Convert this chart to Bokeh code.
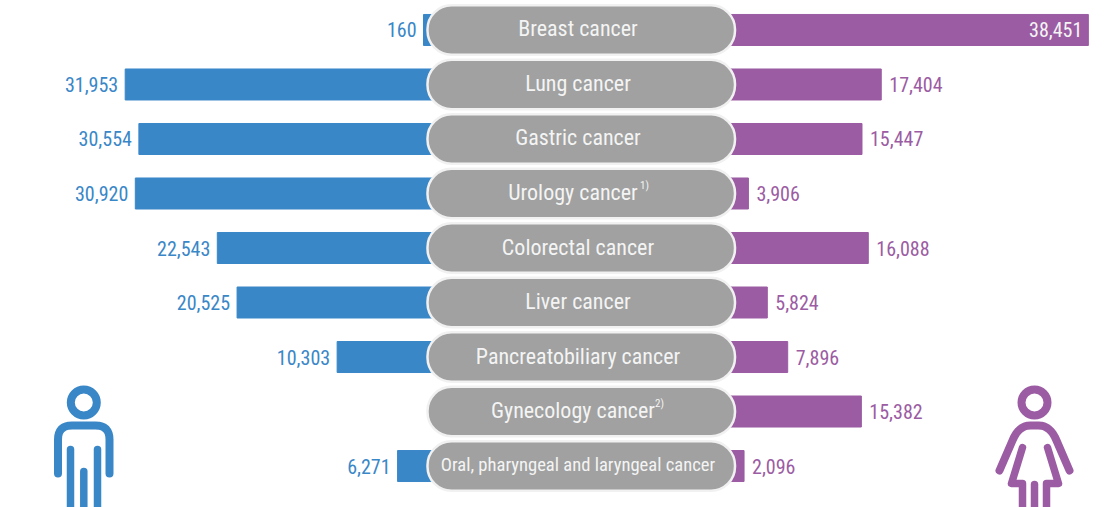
from bokeh.plotting import figure
from bokeh.models import Range1d, ColumnDataSource
from bokeh.core.properties import value
from bokeh.embed import file_html
from bokeh.resources import INLINE

categories = ["Breast cancer", "Lung cancer", "Gastric cancer", "Urology cancer", "Colorectal cancer",
              "Liver cancer", "Pancreatobiliary cancer", "Gynecology cancer", "Oral, pharyngeal and laryngeal cancer"]
footnotes = ["", "", "", "1)", "", "", "", "2)", ""]
male_labels = ["160", "31,953", "30,554", "30,920", "22,543", "20,525", "10,303", "", "6,271"]
female_labels = ["38,451", "17,404", "15,447", "3,906", "16,088", "5,824", "7,896", "15,382", "2,096"]
# bar lengths as drawn in the picture (the smallest bars are drawn longer than their labels)
male_bars = [1480, 31953, 30554, 30920, 22543, 20525, 10303, 0, 4130]
female_bars = [38451, 17404, 15447, 3906, 16088, 5824, 7896, 15382, 3460]

BLUE, PURPLE, GREY, EDGE, LIGHT = "#3a87c8", "#9b5ca3", "#a0a1a0", "#f1f1f1", "#f4f4f4"
FONT = "Roboto Condensed"

W, H = 1108, 507
rows = list(range(len(categories)))
p = figure(width=W, height=H, output_backend="svg", toolbar_location=None, min_border=0,
           x_range=Range1d(0, W), y_range=Range1d(8.761, -0.541),
           x_axis_type=None, y_axis_type=None, outline_line_color=None)
p.grid.visible = False
p.extra_x_ranges = {"male": Range1d(44689, -68488), "female": Range1d(-72104, 40498)}
p.extra_y_ranges = {"px": Range1d(H, 0)}

src = ColumnDataSource(dict(y=rows, cat=categories, ml=male_labels, fl=female_labels,
                            mb=male_bars, fb=female_bars,
                            zero=[0] * len(rows)))
p.hbar(y="y", left="zero", right="mb", height=0.569, color=BLUE, source=src, x_range_name="male")
p.hbar(y="y", left="zero", right="fb", height=0.569, color=PURPLE, source=src, x_range_name="female")

# pills
pill_left = [427] * len(rows)
pill_right = [734.5] * len(rows)
p.hbar(y=rows, left=pill_left, right=pill_right, height=0.905, fill_color=GREY, line_color=EDGE,
       line_width=2.5, border_radius=24)

# pill labels
offs = [-5 if f else 0 for f in footnotes]
sizes = ["22px"] * 8 + ["18.6px"]
p.text(x=[577.5] * len(rows), y=rows, text=categories, x_offset=offs, y_offset=-1, text_align="center",
       text_baseline="middle", text_color=LIGHT, text_font=value(FONT), text_font_size=sizes)
fn_rows = [i for i, f in enumerate(footnotes) if f]
p.text(x=[639.5, 654.5], y=fn_rows, text=[footnotes[i] for i in fn_rows], y_offset=-8,
       text_align="left", text_baseline="middle", text_color=LIGHT, text_font=value(FONT),
       text_font_size="11px")

# value labels
p.text(x="mb", y="y", text="ml", source=src, x_range_name="male", x_offset=-7, y_offset=0,
       text_align="right", text_baseline="middle", text_color=BLUE, text_font=value(FONT),
       text_font_size="20px")
out_rows = [i for i in rows if i != 0]
p.text(x=[female_bars[i] for i in out_rows], y=out_rows, text=[female_labels[i] for i in out_rows],
       x_range_name="female", x_offset=8, y_offset=0, text_align="left", text_baseline="middle",
       text_color=PURPLE, text_font=value(FONT), text_font_size="20px")
p.text(x=[female_bars[0]], y=[0], text=[female_labels[0]], x_range_name="female", x_offset=-6, y_offset=0,
       text_align="right", text_baseline="middle", text_color=LIGHT, text_font=value(FONT),
       text_font_size="20px")


def curve(a, c, b, n=8):
    pts = []
    for k in range(n + 1):
        t = k / n
        pts.append(((1 - t) ** 2 * a[0] + 2 * t * (1 - t) * c[0] + t ** 2 * b[0],
                    (1 - t) ** 2 * a[1] + 2 * t * (1 - t) * c[1] + t ** 2 * b[1]))
    return pts


def stroke(paths, color, width):
    p.multi_line([[q[0] for q in path] for path in paths], [[q[1] for q in path] for path in paths],
                 line_color=color, line_width=width, line_cap="round", line_join="round", y_range_name="px")


# male icon
p.circle(x=[83.3], y=[402], radius=13, radius_units="screen", fill_color=None, line_color=BLUE, line_width=8,
         y_range_name="px")
stroke([[(57.5, 473)] + curve((57.5, 439), (57.5, 425), (71.5, 425)) + curve((95, 425), (109, 425), (109, 439)) + [(109, 473)]],
       BLUE, 8)
stroke([[(70, 449), (70, 512)], [(83.3, 471), (83.3, 512)], [(97, 449), (97, 512)]], BLUE, 7.5)

# female icon
p.circle(x=[1034], y=[402], radius=13, radius_units="screen", fill_color=None, line_color=PURPLE, line_width=8,
         y_range_name="px")
stroke([[(999, 470)] + curve((1012, 440), (1018, 425), (1030, 425)) + curve((1038, 425), (1050, 425), (1056, 440)) + [(1069, 470)]],
       PURPLE, 8)
stroke([[(1022, 447), (1011, 483), (1022, 483), (1022, 512)],
        [(1047, 447), (1058, 483), (1046, 483), (1046, 512)],
        [(1034, 484), (1034, 512)]], PURPLE, 7.5)

open("out.html", "w").write(file_html(p, INLINE))
